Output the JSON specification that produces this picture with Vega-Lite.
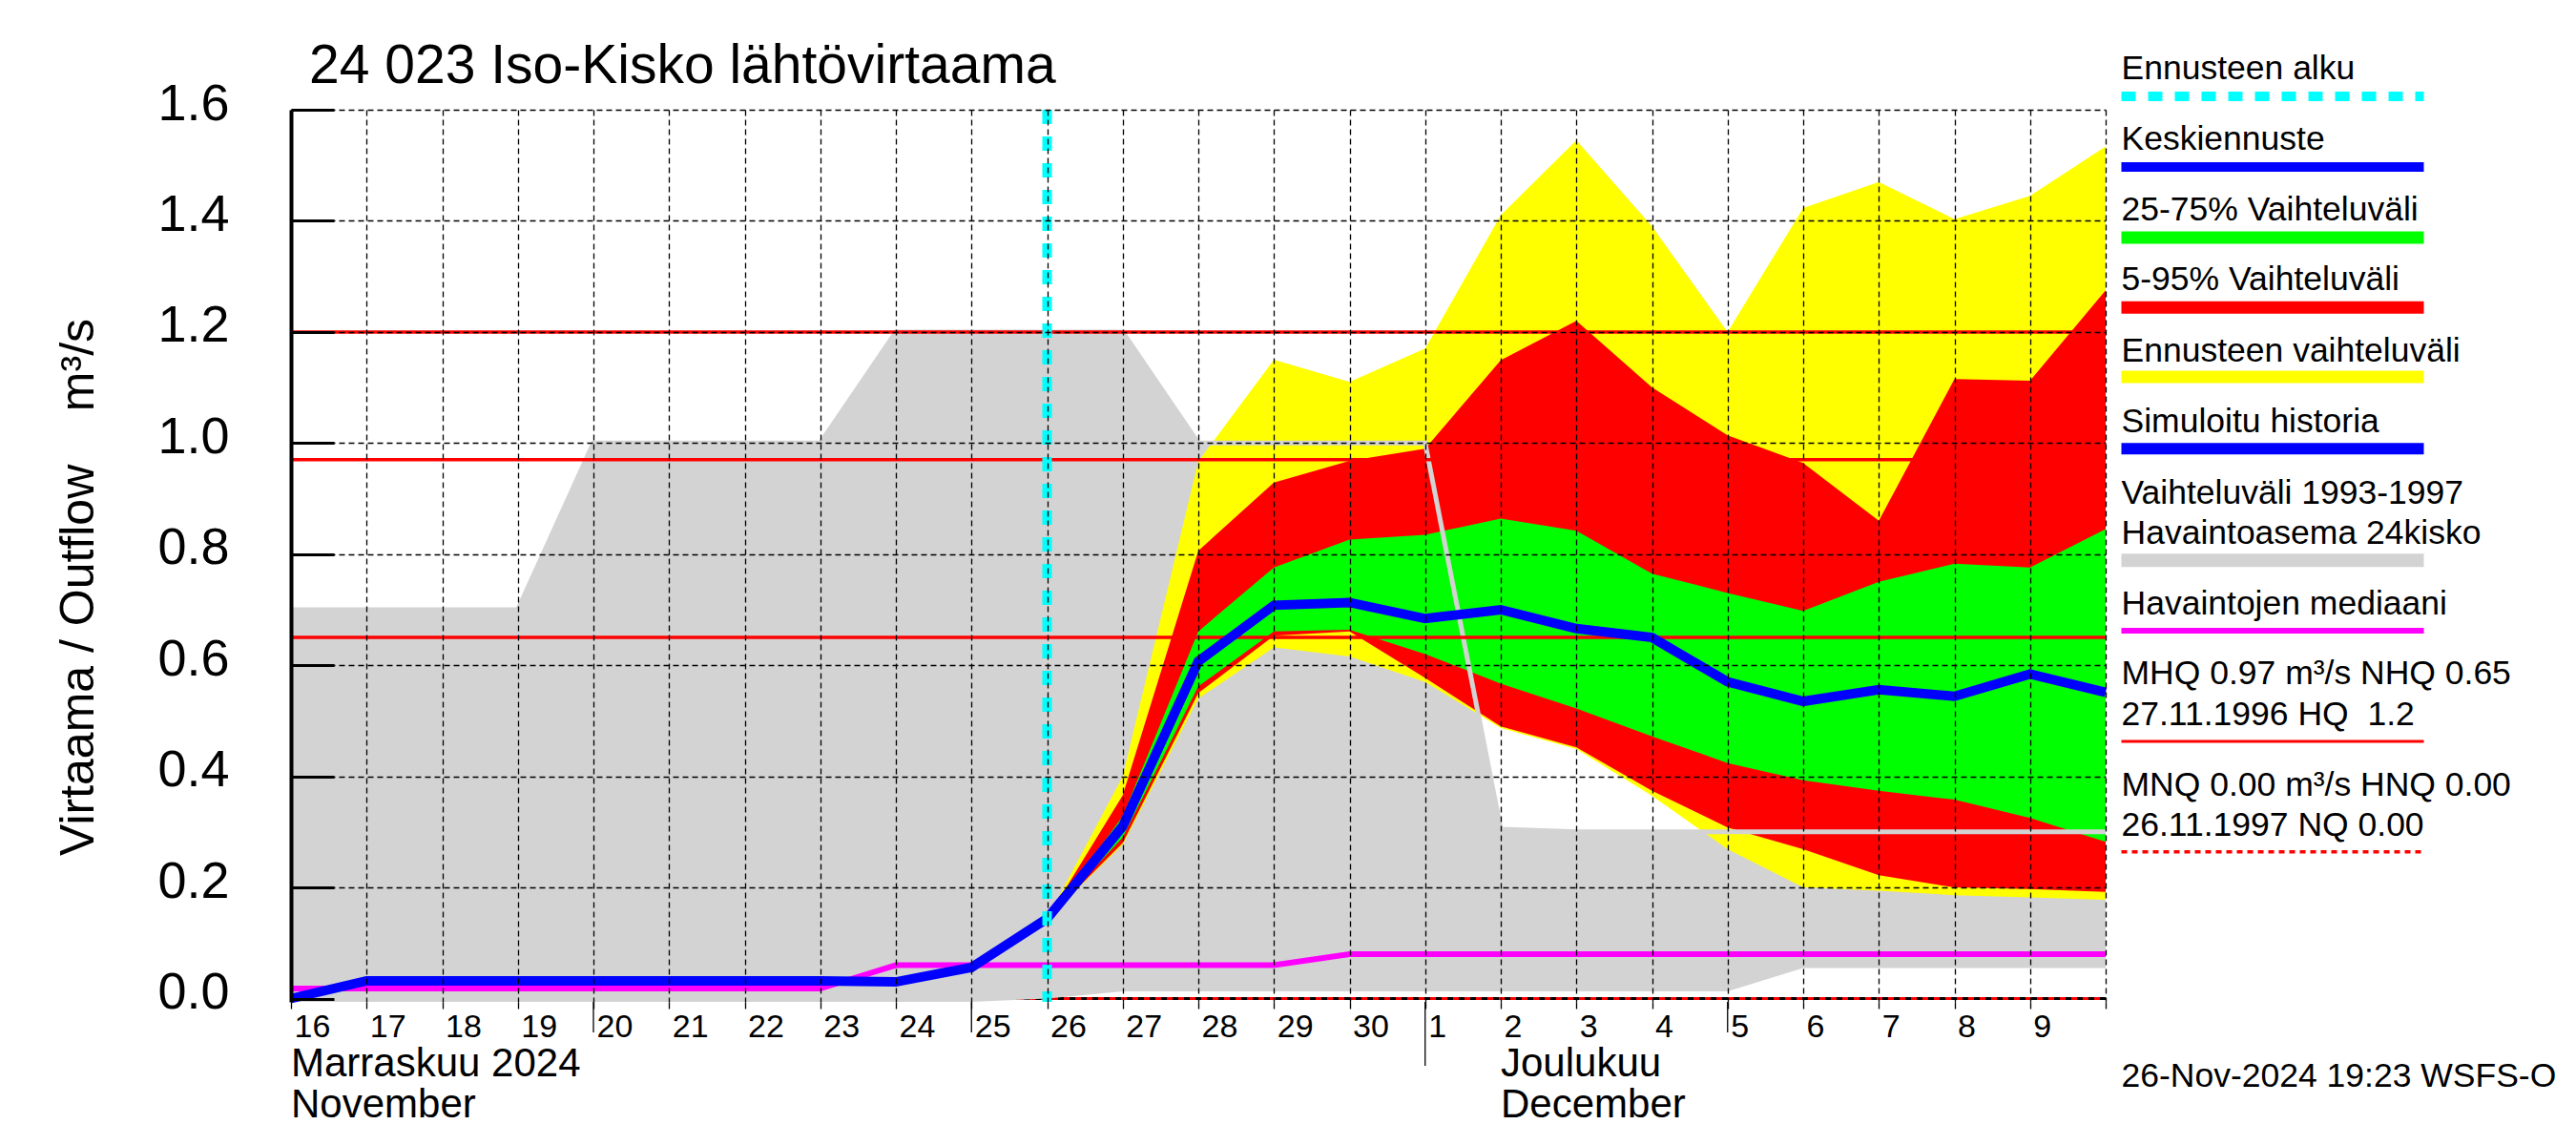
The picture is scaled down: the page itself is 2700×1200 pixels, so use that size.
{
  "$schema": "https://vega.github.io/schema/vega-lite/v6.json",
  "width": 1902,
  "height": 935,
  "autosize": {"type": "none"},
  "padding": {"left": 305, "top": 115, "right": 493, "bottom": 150},
  "background": "white",
  "title": {"text": "24 023 Iso-Kisko lähtövirtaama", "anchor": "start", "frame": "group", "fontSize": 57, "fontWeight": "normal", "dx": 19, "dy": 58, "offset": 14, "color": "black"},
  "config": {
    "font": "Liberation Sans",
    "view": {"stroke": null},
    "text": {"fontSize": 35.5, "align": "left", "baseline": "middle", "color": "black"},
    "axis": {"labelColor": "black", "titleColor": "black"}
  },
  "datasets": {
    "series": [
      {"date": "2024-11-16", "grey_lo": -0.006, "grey_hi": 0.70, "median": 0.018, "blue": 0.0},
      {"date": "2024-11-17", "grey_lo": -0.006, "grey_hi": 0.70, "median": 0.018, "blue": 0.032},
      {"date": "2024-11-18", "grey_lo": -0.006, "grey_hi": 0.70, "median": 0.018, "blue": 0.032},
      {"date": "2024-11-19", "grey_lo": -0.006, "grey_hi": 0.70, "median": 0.018, "blue": 0.032},
      {"date": "2024-11-20", "grey_lo": -0.006, "grey_hi": 1.0, "median": 0.018, "blue": 0.032},
      {"date": "2024-11-21", "grey_lo": -0.006, "grey_hi": 1.0, "median": 0.018, "blue": 0.032},
      {"date": "2024-11-22", "grey_lo": -0.006, "grey_hi": 1.0, "median": 0.018, "blue": 0.032},
      {"date": "2024-11-23", "grey_lo": -0.006, "grey_hi": 1.0, "median": 0.018, "blue": 0.032},
      {"date": "2024-11-24", "grey_lo": -0.006, "grey_hi": 1.2, "median": 0.06, "blue": 0.030},
      {"date": "2024-11-25", "grey_lo": -0.006, "grey_hi": 1.2, "median": 0.06, "blue": 0.056},
      {"date": "2024-11-26", "grey_lo": 0.0, "grey_hi": 1.2, "median": 0.06, "blue": 0.144, "y_lo": 0.144, "y_hi": 0.144, "r_lo": 0.144, "r_hi": 0.144, "g_lo": 0.144, "g_hi": 0.144},
      {"date": "2024-11-27", "grey_lo": 0.013, "grey_hi": 1.2, "median": 0.06, "blue": 0.31, "y_lo": 0.277, "y_hi": 0.40, "r_lo": 0.28, "r_hi": 0.366, "g_lo": 0.29, "g_hi": 0.328},
      {"date": "2024-11-28", "grey_lo": 0.013, "grey_hi": 1.0, "median": 0.06, "blue": 0.607, "y_lo": 0.54, "y_hi": 0.967, "r_lo": 0.55, "r_hi": 0.806, "g_lo": 0.562, "g_hi": 0.661},
      {"date": "2024-11-29", "grey_lo": 0.013, "grey_hi": 1.0, "median": 0.06, "blue": 0.708, "y_lo": 0.632, "y_hi": 1.15, "r_lo": 0.653, "r_hi": 0.929, "g_lo": 0.661, "g_hi": 0.776},
      {"date": "2024-11-30", "grey_lo": 0.013, "grey_hi": 1.0, "median": 0.08, "blue": 0.713, "y_lo": 0.616, "y_hi": 1.11, "r_lo": 0.661, "r_hi": 0.968, "g_lo": 0.664, "g_hi": 0.826},
      {"date": "2024-12-01", "grey_lo": 0.013, "grey_hi": 1.0, "median": 0.08, "blue": 0.684, "y_lo": 0.57, "y_hi": 1.17, "r_lo": 0.577, "r_hi": 0.99, "g_lo": 0.62, "g_hi": 0.835},
      {"date": "2024-12-02", "grey_lo": 0.013, "grey_hi": 0.305, "median": 0.08, "blue": 0.70, "y_lo": 0.487, "y_hi": 1.41, "r_lo": 0.49, "r_hi": 1.149, "g_lo": 0.567, "g_hi": 0.864},
      {"date": "2024-12-03", "grey_lo": 0.013, "grey_hi": 0.30, "median": 0.08, "blue": 0.666, "y_lo": 0.449, "y_hi": 1.545, "r_lo": 0.452, "r_hi": 1.22, "g_lo": 0.522, "g_hi": 0.842},
      {"date": "2024-12-04", "grey_lo": 0.013, "grey_hi": 0.30, "median": 0.08, "blue": 0.65, "y_lo": 0.365, "y_hi": 1.39, "r_lo": 0.374, "r_hi": 1.10, "g_lo": 0.472, "g_hi": 0.765},
      {"date": "2024-12-05", "grey_lo": 0.013, "grey_hi": 0.30, "median": 0.08, "blue": 0.57, "y_lo": 0.269, "y_hi": 1.20, "r_lo": 0.308, "r_hi": 1.014, "g_lo": 0.424, "g_hi": 0.73},
      {"date": "2024-12-06", "grey_lo": 0.055, "grey_hi": 0.30, "median": 0.08, "blue": 0.535, "y_lo": 0.20, "y_hi": 1.423, "r_lo": 0.269, "r_hi": 0.964, "g_lo": 0.393, "g_hi": 0.698},
      {"date": "2024-12-07", "grey_lo": 0.055, "grey_hi": 0.30, "median": 0.08, "blue": 0.556, "y_lo": 0.194, "y_hi": 1.47, "r_lo": 0.222, "r_hi": 0.86, "g_lo": 0.374, "g_hi": 0.75},
      {"date": "2024-12-08", "grey_lo": 0.055, "grey_hi": 0.30, "median": 0.08, "blue": 0.544, "y_lo": 0.186, "y_hi": 1.403, "r_lo": 0.20, "r_hi": 1.115, "g_lo": 0.358, "g_hi": 0.783},
      {"date": "2024-12-09", "grey_lo": 0.055, "grey_hi": 0.30, "median": 0.08, "blue": 0.584, "y_lo": 0.182, "y_hi": 1.445, "r_lo": 0.197, "r_hi": 1.112, "g_lo": 0.325, "g_hi": 0.776},
      {"date": "2024-12-10", "grey_lo": 0.055, "grey_hi": 0.30, "median": 0.08, "blue": 0.551, "y_lo": 0.178, "y_hi": 1.534, "r_lo": 0.192, "r_hi": 1.275, "g_lo": 0.282, "g_hi": 0.845}
    ]
  },
  "data": {"name": "series"},
  "layer": [
    {"data": {"values": [{}]}, "mark": {"type": "rule", "color": "black", "strokeWidth": 3, "strokeDash": [6, 6]}, "encoding": {"y": {"datum": 0, "type": "quantitative"}}},
    {"data": {"values": [{}]}, "mark": {"type": "rule", "color": "#ff0000", "strokeWidth": 3, "strokeDash": [6, 6], "strokeDashOffset": 6}, "encoding": {"y": {"datum": 0, "type": "quantitative"}}},
    {
      "mark": {"type": "area", "color": "#d3d3d3", "clip": true},
      "encoding": {
        "x": {"field": "date", "type": "temporal",
          "scale": {"type": "utc", "domain": [{"year": 2024, "month": 11, "date": 16, "utc": true}, {"year": 2024, "month": 12, "date": 10, "utc": true}]},
          "axis": {"title": null, "tickCount": {"interval": "day", "step": 1}, "format": "%-d",
            "labelExpr": "utcdate(datum.value) == 10 && utcmonth(datum.value) == 11 ? '' : datum.label",
            "labelAlign": "left", "labelBaseline": "top", "labelFontSize": 34, "labelPadding": 2, "labelOffset": 3,
            "labelOverlap": false, "labelFlush": false, "labelBound": false,
            "tickSize": 7, "tickColor": "black", "tickWidth": 1.3, "domain": false,
            "grid": true, "gridColor": "black", "gridDash": [6, 4], "gridWidth": 1.3, "zindex": 1}},
        "y": {"field": "grey_lo", "type": "quantitative",
          "scale": {"domain": [-0.006, 1.6], "nice": false, "zero": false},
          "axis": {"values": [0, 0.2, 0.4, 0.6, 0.8, 1.0, 1.2, 1.4, 1.6], "format": ".1f",
            "labelFontSize": 54, "labelPadding": 110, "labelOffset": -6, "labelFlush": false, "labelOverlap": false,
            "tickSize": -45, "tickWidth": 3, "tickColor": "black",
            "domainColor": "black", "domainWidth": 4,
            "grid": true, "gridColor": "black", "gridDash": [6, 4], "gridWidth": 1.3,
            "gridOpacity": {"condition": {"test": "datum.value === 0", "value": 0}, "value": 1},
            "zindex": 1,
            "title": "Virtaama / Outflow\u00a0\u00a0\u00a0\u00a0m³/s", "titleFontSize": 50, "titleFontWeight": "normal",
            "titleAngle": -90, "titleX": -223, "titleY": 500, "titleAlign": "center", "titleBaseline": "middle"}},
        "y2": {"field": "grey_hi"}
      }
    },
    {"mark": {"type": "area", "color": "#ffff00"}, "encoding": {"x": {"field": "date", "type": "temporal"}, "y": {"field": "y_lo", "type": "quantitative"}, "y2": {"field": "y_hi"}}},
    {"mark": {"type": "area", "color": "#ff0000"}, "encoding": {"x": {"field": "date", "type": "temporal"}, "y": {"field": "r_lo", "type": "quantitative"}, "y2": {"field": "r_hi"}}},
    {"mark": {"type": "area", "color": "#00ff00"}, "encoding": {"x": {"field": "date", "type": "temporal"}, "y": {"field": "g_lo", "type": "quantitative"}, "y2": {"field": "g_hi"}}},
    {"mark": {"type": "line", "color": "#d3d3d3", "strokeWidth": 5}, "encoding": {"x": {"field": "date", "type": "temporal"}, "y": {"field": "grey_hi", "type": "quantitative"}}},
    {"data": {"values": [{"v": 0.97}, {"v": 0.65}, {"v": 1.2}]}, "mark": {"type": "rule", "color": "#ff0000", "strokeWidth": 3.5}, "encoding": {"y": {"field": "v", "type": "quantitative"}}},
    {"mark": {"type": "line", "color": "#ff00ff", "strokeWidth": 6}, "encoding": {"x": {"field": "date", "type": "temporal"}, "y": {"field": "median", "type": "quantitative"}}},
    {"mark": {"type": "line", "color": "#0000ff", "strokeWidth": 10}, "encoding": {"x": {"field": "date", "type": "temporal"}, "y": {"field": "blue", "type": "quantitative"}}},
    {"data": {"values": [{"date": "2024-11-26"}]}, "mark": {"type": "rule", "color": "#00ffff", "strokeWidth": 10, "strokeDash": [15, 13]}, "encoding": {"x": {"field": "date", "type": "temporal"}}},
    {"data": {"values": [{"date": "2024-11-20"}, {"date": "2024-11-25"}, {"date": "2024-12-05"}]}, "mark": {"type": "rule", "color": "black", "strokeWidth": 1.3}, "encoding": {"x": {"field": "date", "type": "temporal"}, "y": {"datum": -0.006, "type": "quantitative"}, "y2": {"datum": -0.061}}},
    {"data": {"values": [{"date": "2024-12-01"}]}, "mark": {"type": "rule", "color": "black", "strokeWidth": 1.3}, "encoding": {"x": {"field": "date", "type": "temporal"}, "y": {"datum": -0.006, "type": "quantitative"}, "y2": {"datum": -0.121}}},
    {"data": {"values": [{"date": "2024-11-16", "t1": "Marraskuu 2024", "t2": "November"}, {"date": "2024-12-02", "t1": "Joulukuu", "t2": "December"}]},
      "mark": {"type": "text", "fontSize": 42}, "encoding": {"x": {"field": "date", "type": "temporal"}, "y": {"datum": -0.117, "type": "quantitative"}, "text": {"field": "t1"}}},
    {"data": {"values": [{"date": "2024-11-16", "t1": "Marraskuu 2024", "t2": "November"}, {"date": "2024-12-02", "t1": "Joulukuu", "t2": "December"}]},
      "mark": {"type": "text", "fontSize": 42}, "encoding": {"x": {"field": "date", "type": "temporal"}, "y": {"datum": -0.192, "type": "quantitative"}, "text": {"field": "t2"}}},

    {"data": {"values": [{}]}, "mark": "text", "encoding": {"x": {"datum": {"year": 2024, "month": 12, "date": 10, "hours": 5, "utc": true}, "type": "temporal"}, "y": {"datum": 1.674, "type": "quantitative"}, "text": {"value": "Ennusteen alku"}}},
    {"data": {"values": [{}]}, "mark": "text", "encoding": {"x": {"datum": {"year": 2024, "month": 12, "date": 10, "hours": 5, "utc": true}, "type": "temporal"}, "y": {"datum": 1.547, "type": "quantitative"}, "text": {"value": "Keskiennuste"}}},
    {"data": {"values": [{}]}, "mark": "text", "encoding": {"x": {"datum": {"year": 2024, "month": 12, "date": 10, "hours": 5, "utc": true}, "type": "temporal"}, "y": {"datum": 1.420, "type": "quantitative"}, "text": {"value": "25-75% Vaihteluväli"}}},
    {"data": {"values": [{}]}, "mark": "text", "encoding": {"x": {"datum": {"year": 2024, "month": 12, "date": 10, "hours": 5, "utc": true}, "type": "temporal"}, "y": {"datum": 1.294, "type": "quantitative"}, "text": {"value": "5-95% Vaihteluväli"}}},
    {"data": {"values": [{}]}, "mark": "text", "encoding": {"x": {"datum": {"year": 2024, "month": 12, "date": 10, "hours": 5, "utc": true}, "type": "temporal"}, "y": {"datum": 1.165, "type": "quantitative"}, "text": {"value": "Ennusteen vaihteluväli"}}},
    {"data": {"values": [{}]}, "mark": "text", "encoding": {"x": {"datum": {"year": 2024, "month": 12, "date": 10, "hours": 5, "utc": true}, "type": "temporal"}, "y": {"datum": 1.038, "type": "quantitative"}, "text": {"value": "Simuloitu historia"}}},
    {"data": {"values": [{}]}, "mark": "text", "encoding": {"x": {"datum": {"year": 2024, "month": 12, "date": 10, "hours": 5, "utc": true}, "type": "temporal"}, "y": {"datum": 0.910, "type": "quantitative"}, "text": {"value": "Vaihteluväli 1993-1997"}}},
    {"data": {"values": [{}]}, "mark": "text", "encoding": {"x": {"datum": {"year": 2024, "month": 12, "date": 10, "hours": 5, "utc": true}, "type": "temporal"}, "y": {"datum": 0.837, "type": "quantitative"}, "text": {"value": "\u00a0Havaintoasema 24kisko"}}},
    {"data": {"values": [{}]}, "mark": "text", "encoding": {"x": {"datum": {"year": 2024, "month": 12, "date": 10, "hours": 5, "utc": true}, "type": "temporal"}, "y": {"datum": 0.710, "type": "quantitative"}, "text": {"value": "Havaintojen mediaani"}}},
    {"data": {"values": [{}]}, "mark": "text", "encoding": {"x": {"datum": {"year": 2024, "month": 12, "date": 10, "hours": 5, "utc": true}, "type": "temporal"}, "y": {"datum": 0.585, "type": "quantitative"}, "text": {"value": "MHQ 0.97 m³/s NHQ 0.65"}}},
    {"data": {"values": [{}]}, "mark": "text", "encoding": {"x": {"datum": {"year": 2024, "month": 12, "date": 10, "hours": 5, "utc": true}, "type": "temporal"}, "y": {"datum": 0.511, "type": "quantitative"}, "text": {"value": "27.11.1996 HQ\u00a0\u00a01.2"}}},
    {"data": {"values": [{}]}, "mark": "text", "encoding": {"x": {"datum": {"year": 2024, "month": 12, "date": 10, "hours": 5, "utc": true}, "type": "temporal"}, "y": {"datum": 0.384, "type": "quantitative"}, "text": {"value": "MNQ 0.00 m³/s HNQ 0.00"}}},
    {"data": {"values": [{}]}, "mark": "text", "encoding": {"x": {"datum": {"year": 2024, "month": 12, "date": 10, "hours": 5, "utc": true}, "type": "temporal"}, "y": {"datum": 0.312, "type": "quantitative"}, "text": {"value": "26.11.1997 NQ 0.00"}}},
    {"data": {"values": [{}]}, "mark": {"type": "text", "fontSize": 35.5}, "encoding": {"x": {"datum": {"year": 2024, "month": 12, "date": 10, "hours": 5, "utc": true}, "type": "temporal"}, "y": {"datum": -0.140, "type": "quantitative"}, "text": {"value": "26-Nov-2024 19:23 WSFS-O"}}},

    {"data": {"values": [{}]}, "mark": {"type": "rule", "color": "#00ffff", "strokeWidth": 10, "strokeDash": [15, 13]}, "encoding": {"x": {"datum": {"year": 2024, "month": 12, "date": 10, "hours": 5, "utc": true}, "type": "temporal"}, "x2": {"datum": {"year": 2024, "month": 12, "date": 14, "hours": 5, "utc": true}}, "y": {"datum": 1.624, "type": "quantitative"}}},
    {"data": {"values": [{}]}, "mark": {"type": "rule", "color": "#0000ff", "strokeWidth": 10}, "encoding": {"x": {"datum": {"year": 2024, "month": 12, "date": 10, "hours": 5, "utc": true}, "type": "temporal"}, "x2": {"datum": {"year": 2024, "month": 12, "date": 14, "hours": 5, "utc": true}}, "y": {"datum": 1.497, "type": "quantitative"}}},
    {"data": {"values": [{}]}, "mark": {"type": "rule", "color": "#00ff00", "strokeWidth": 13}, "encoding": {"x": {"datum": {"year": 2024, "month": 12, "date": 10, "hours": 5, "utc": true}, "type": "temporal"}, "x2": {"datum": {"year": 2024, "month": 12, "date": 14, "hours": 5, "utc": true}}, "y": {"datum": 1.370, "type": "quantitative"}}},
    {"data": {"values": [{}]}, "mark": {"type": "rule", "color": "#ff0000", "strokeWidth": 13}, "encoding": {"x": {"datum": {"year": 2024, "month": 12, "date": 10, "hours": 5, "utc": true}, "type": "temporal"}, "x2": {"datum": {"year": 2024, "month": 12, "date": 14, "hours": 5, "utc": true}}, "y": {"datum": 1.244, "type": "quantitative"}}},
    {"data": {"values": [{}]}, "mark": {"type": "rule", "color": "#ffff00", "strokeWidth": 13}, "encoding": {"x": {"datum": {"year": 2024, "month": 12, "date": 10, "hours": 5, "utc": true}, "type": "temporal"}, "x2": {"datum": {"year": 2024, "month": 12, "date": 14, "hours": 5, "utc": true}}, "y": {"datum": 1.119, "type": "quantitative"}}},
    {"data": {"values": [{}]}, "mark": {"type": "rule", "color": "#0000ff", "strokeWidth": 12}, "encoding": {"x": {"datum": {"year": 2024, "month": 12, "date": 10, "hours": 5, "utc": true}, "type": "temporal"}, "x2": {"datum": {"year": 2024, "month": 12, "date": 14, "hours": 5, "utc": true}}, "y": {"datum": 0.990, "type": "quantitative"}}},
    {"data": {"values": [{}]}, "mark": {"type": "rule", "color": "#d3d3d3", "strokeWidth": 14}, "encoding": {"x": {"datum": {"year": 2024, "month": 12, "date": 10, "hours": 5, "utc": true}, "type": "temporal"}, "x2": {"datum": {"year": 2024, "month": 12, "date": 14, "hours": 5, "utc": true}}, "y": {"datum": 0.789, "type": "quantitative"}}},
    {"data": {"values": [{}]}, "mark": {"type": "rule", "color": "#ff00ff", "strokeWidth": 6}, "encoding": {"x": {"datum": {"year": 2024, "month": 12, "date": 10, "hours": 5, "utc": true}, "type": "temporal"}, "x2": {"datum": {"year": 2024, "month": 12, "date": 14, "hours": 5, "utc": true}}, "y": {"datum": 0.662, "type": "quantitative"}}},
    {"data": {"values": [{}]}, "mark": {"type": "rule", "color": "#ff0000", "strokeWidth": 3}, "encoding": {"x": {"datum": {"year": 2024, "month": 12, "date": 10, "hours": 5, "utc": true}, "type": "temporal"}, "x2": {"datum": {"year": 2024, "month": 12, "date": 14, "hours": 5, "utc": true}}, "y": {"datum": 0.463, "type": "quantitative"}}},
    {"data": {"values": [{}]}, "mark": {"type": "rule", "color": "#ff0000", "strokeWidth": 3.5, "strokeDash": [6, 5]}, "encoding": {"x": {"datum": {"year": 2024, "month": 12, "date": 10, "hours": 5, "utc": true}, "type": "temporal"}, "x2": {"datum": {"year": 2024, "month": 12, "date": 14, "hours": 5, "utc": true}}, "y": {"datum": 0.264, "type": "quantitative"}}}
  ]
}
